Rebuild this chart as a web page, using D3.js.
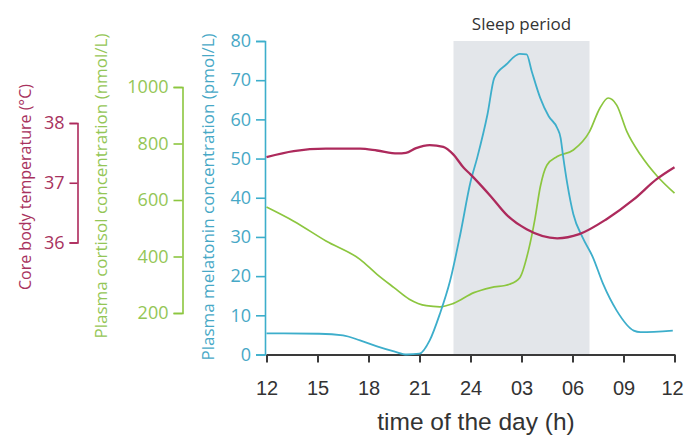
<!DOCTYPE html>
<html>
<head>
<meta charset="utf-8">
<script src="https://cdn.jsdelivr.net/npm/d3@7"></script>
<style>
  body { margin: 0; background: #fff; }
  svg { display: block; }
</style>
</head>
<body>
<svg id="chart" width="684" height="435"></svg>
<script>
// hours run from 12 (noon) through 36 (noon next day)
const xTicks = [12, 15, 18, 21, 24, 27, 30, 33, 36];
const xTickLabels = ['12', '15', '18', '21', '24', '03', '06', '09', '12'];
const sleepPeriod = [23, 31];

const tempTicks = [36, 37, 38];
const cortisolTicks = [200, 400, 600, 800, 1000];
const melatoninTicks = [0, 10, 20, 30, 40, 50, 60, 70, 80];

const tempHours = [12, 13.6, 15.5, 17.5, 18.5, 19.7, 20.2, 20.8, 21.6, 22.4, 23.0, 23.6, 24.0, 24.6, 25.2, 26.1, 27.3, 29.1, 30.4, 32.0, 33.6, 34.95, 36];
const tempValues = [37.43, 37.53, 37.57, 37.57, 37.54, 37.49, 37.5, 37.58, 37.63, 37.6, 37.47, 37.25, 37.14, 36.96, 36.77, 36.47, 36.22, 36.07, 36.14, 36.39, 36.72, 37.06, 37.26];

const cortisolHours = [12, 13.6, 15.5, 17.5, 18.5, 19.5, 20.4, 21.4, 22.2, 23.0, 24.2, 25.2, 26.3, 26.9, 27.4, 27.8, 28.1, 28.5, 29.1, 30.05, 31.0, 31.6, 32.1, 32.6, 33.2, 34, 35, 36];
const cortisolValues = [575, 525, 455, 390, 337, 290, 249, 226, 222, 234, 272, 290, 302, 325, 419, 536, 645, 724, 754, 777, 842, 924, 961, 936, 842, 760, 683, 624];

const melatoninHours = [12, 15.1, 16.5, 17.5, 18.5, 19.5, 20.25, 21, 21.6, 22.2, 22.8, 23.4, 24, 24.4, 25, 25.4, 26.1, 26.9, 27.3, 27.6, 28.1, 28.6, 29.1, 29.3, 29.45, 29.7, 30.05, 30.6, 31.2, 31.8, 32.6, 33.6, 34, 35.9];
const melatoninValues = [5.4, 5.3, 4.9, 3.6, 2.1, 0.8, 0, 0.2, 3.6, 10.4, 18.8, 30.7, 44, 50.3, 61.3, 70.6, 74, 76.7, 76.6, 72.3, 65.5, 60.8, 57.8, 55.3, 50.5, 43.4, 35.8, 29.8, 24.8, 18, 11.2, 6.1, 5.7, 6.1];

const red = '#ad2a5c', green = '#8cc63f', blue = '#3daecb';
const redText = '#a8325e', greenText = '#94c656', blueText = '#47a8c6';
const labelFont = '"Open Sans", "Noto Sans", sans-serif';

const svg = d3.select('#chart');

const x = d3.scaleLinear().domain([12, 36]).range([266.5, 674.5]);
const yMel = d3.scaleLinear().domain([0, 80]).range([354.5, 41]);
const yCort = d3.scaleLinear().domain([200, 1000]).range([313, 87]);
const yTemp = d3.scaleLinear().domain([36, 38]).range([242.5, 123]);

// sleep period band
svg.append('rect')
  .attr('x', x(sleepPeriod[0]))
  .attr('y', yMel(80))
  .attr('width', x(sleepPeriod[1]) - x(sleepPeriod[0]))
  .attr('height', yMel(0) - yMel(80))
  .attr('fill', '#e3e6ea');

svg.append('text')
  .attr('x', x((sleepPeriod[0] + sleepPeriod[1]) / 2))
  .attr('y', 30)
  .attr('text-anchor', 'middle')
  .attr('font-family', labelFont)
  .attr('font-size', '17px')
  .attr('fill', '#333')
  .text('Sleep period');

// y axes
function yAxis(scale, ticks, xPos, color, textColor, size) {
  const g = svg.append('g')
    .attr('transform', `translate(${xPos},0)`)
    .call(d3.axisLeft(scale).tickValues(ticks).tickSize(size).tickPadding(5).tickFormat(d3.format('d')));
  g.select('.domain').attr('stroke', color).attr('stroke-width', 1.6);
  g.selectAll('.tick line').attr('stroke', color).attr('stroke-width', 1.6);
  g.selectAll('.tick text')
    .attr('fill', textColor)
    .attr('font-family', labelFont)
    .attr('font-size', '18px');
  return g;
}

yAxis(yTemp, tempTicks, 77.5, red, redText, 8);
yAxis(yCort, cortisolTicks, 182.5, green, greenText, 9);
yAxis(yMel, melatoninTicks, 265, blue, blueText, 9);

function yTitle(text, cx, cy, color, size) {
  svg.append('text')
    .attr('transform', `translate(${cx},${cy}) rotate(-90)`)
    .attr('text-anchor', 'middle')
    .attr('dy', '0.35em')
    .attr('font-family', labelFont)
    .attr('font-size', size)
    .attr('fill', color)
    .text(text);
}
yTitle('Core body temperature (°C)', 25, 187, redText, '16px');
yTitle('Plasma cortisol concentration (nmol/L)', 101.5, 186, greenText, '17px');
yTitle('Plasma melatonin concentration (pmol/L)', 208, 197, blueText, '17px');

// x axis
const xg = svg.append('g')
  .attr('transform', `translate(0,${yMel(0)})`)
  .call(d3.axisBottom(x).tickValues(xTicks).tickSize(8).tickSizeOuter(0).tickPadding(18)
    .tickFormat((d, i) => xTickLabels[i]));
xg.select('.domain').attr('stroke', '#3a3a3a').attr('stroke-width', 2);
xg.selectAll('.tick line').attr('stroke', '#3a3a3a').attr('stroke-width', 2);
xg.selectAll('.tick text')
  .attr('fill', '#333')
  .attr('font-family', '"Liberation Sans", Arial, sans-serif')
  .attr('font-size', '20px');
// last label sits right at the page edge
xg.selectAll('.tick text').filter((d, i) => i === xTicks.length - 1).attr('dx', -2.5);

svg.append('text')
  .attr('x', 476)
  .attr('y', 430)
  .attr('text-anchor', 'middle')
  .attr('font-family', '"Liberation Sans", Arial, sans-serif')
  .attr('font-size', '24.5px')
  .attr('fill', '#333')
  .text('time of the day (h)');

// curves
function curve(hours, values, yScale, color, width) {
  const pts = hours.map((h, i) => [h, values[i]]);
  const line = d3.line()
    .x(d => x(d[0]))
    .y(d => yScale(d[1]))
    .curve(d3.curveMonotoneX);
  svg.append('path')
    .datum(pts)
    .attr('d', line)
    .attr('fill', 'none')
    .attr('stroke', color)
    .attr('stroke-width', width)
    .attr('stroke-linejoin', 'round');
}

curve(cortisolHours, cortisolValues, yCort, green, 1.7);
curve(melatoninHours, melatoninValues, yMel, blue, 1.8);
curve(tempHours, tempValues, yTemp, red, 2.3);
</script>
</body>
</html>
